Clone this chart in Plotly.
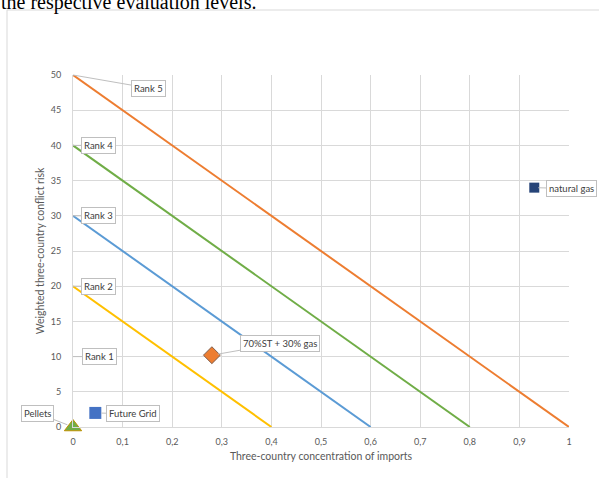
import plotly.graph_objects as go

# ---- data ----
rank_names = ["Rank 1", "Rank 2", "Rank 3", "Rank 4", "Rank 5"]
rank_levels = [10, 20, 30, 40, 50]          # y-intercept of each rank line
rank_x_end = [0.2, 0.4, 0.6, 0.8, 1.0]      # x-intercept of each rank line
rank_drawn = [False, True, True, True, True]
rank_colors = ["#FFFFFF", "#FFC000", "#5B9BD5", "#70AD47", "#ED7D31"]

point_names = ["Pellets", "Future Grid", "70%ST + 30% gas", "natural gas"]
point_x = [0.0, 0.045, 0.28, 0.93]
point_y = [0.0, 2.0, 10.2, 34.0]

x_tick_vals = [0, 0.1, 0.2, 0.3, 0.4, 0.5, 0.6, 0.7, 0.8, 0.9, 1.0]
x_tick_text = ["0", "0,1", "0,2", "0,3", "0,4", "0,5", "0,6", "0,7", "0,8", "0,9", "1"]
y_tick_vals = [0, 5, 10, 15, 20, 25, 30, 35, 40, 45, 50]
y_tick_text = [str(v) for v in y_tick_vals]

# ---- styling ----
W, H = 599, 478
ML, MR, MT, MB = 73, 30, 75, 51
PW, PH = W - ML - MR, H - MT - MB

def px2x(px):
    return (px - ML) / PW

def px2y(py):
    return (H - MB - py) / PH

FONT = "Lato"
point_styles = [
    dict(symbol="triangle-up", size=15, color="#70AD47", line=dict(color="#BF9000", width=1)),
    dict(symbol="square", size=12, color="#4472C4", line=dict(color="#4472C4", width=0)),
    dict(symbol="diamond", size=13, color="#ED7D31", line=dict(color="#7F5F4F", width=1)),
    dict(symbol="square", size=10, color="#264478", line=dict(color="#264478", width=0)),
]
# label offsets (pixels) from marker to label-box centre, and arrow standoff
point_label_off = [(-36, -14), (38, 1), (68, -12), (37, 1)]
point_standoff = [6, 6, 6, 4]
rank_label_off = [(26, 0), (25, 0), (25, 0), (25, 0), (75, 13)]

fig = go.Figure()

for name, lvl, xe, drawn, col in zip(rank_names, rank_levels, rank_x_end, rank_drawn, rank_colors):
    if drawn:
        fig.add_trace(go.Scatter(x=[0, xe], y=[lvl, 0], mode="lines",
                                 line=dict(color=col, width=2), name=name,
                                 showlegend=False, hoverinfo="skip"))

for name, x, y, st in zip(point_names, point_x, point_y, point_styles):
    fig.add_trace(go.Scatter(x=[x], y=[y], mode="markers", marker=st, name=name,
                             showlegend=False, cliponaxis=False))

annotations = []
box = dict(showarrow=True, arrowhead=0, arrowwidth=1, arrowcolor="#BFBFBF",
           bgcolor="white", bordercolor="#BFBFBF", borderwidth=1, borderpad=2,
           font=dict(family=FONT, size=9.5, color="#404040"), axref="pixel", ayref="pixel")

for name, lvl, (ax, ay) in zip(rank_names, rank_levels, rank_label_off):
    annotations.append(dict(x=0, y=lvl, xref="x", yref="y", text=name, ax=ax, ay=ay, **box))

for name, x, y, (ax, ay), so in zip(point_names, point_x, point_y, point_label_off, point_standoff):
    annotations.append(dict(x=x, y=y, xref="x", yref="y", text=name, ax=ax, ay=ay,
                            standoff=so, **box))

# cut-off caption at top
annotations.append(dict(x=px2x(-1), y=px2y(3), xref="paper", yref="paper",
                        xanchor="left", yanchor="middle", showarrow=False,
                        text="the respective evaluation levels.",
                        font=dict(family="Liberation Serif", size=20, color="black")))

shapes = [
    dict(type="line", xref="paper", yref="paper", x0=px2x(7), x1=px2x(620),
         y0=px2y(10), y1=px2y(10), line=dict(color="#D9D9D9", width=1)),
    dict(type="line", xref="paper", yref="paper", x0=px2x(7), x1=px2x(7),
         y0=px2y(10), y1=px2y(500), line=dict(color="#D9D9D9", width=1)),
]

fig.update_layout(
    width=W, height=H,
    margin=dict(l=ML, r=MR, t=MT, b=MB, pad=0),
    paper_bgcolor="white", plot_bgcolor="white",
    font=dict(family=FONT, size=9, color="#595959"),
    annotations=annotations, shapes=shapes,
    showlegend=False,
    xaxis=dict(range=[0, 1], tickvals=x_tick_vals, ticktext=x_tick_text,
               showgrid=True, gridcolor="#D9D9D9", gridwidth=1,
               zeroline=False, showline=True, linecolor="#D9D9D9", linewidth=1,
               ticks="", ticklabelstandoff=6,
               tickfont=dict(family=FONT, size=9, color="#595959"),
               title=dict(text="Three-country concentration of imports",
                          font=dict(family=FONT, size=10.5, color="#595959"), standoff=6)),
    yaxis=dict(range=[0, 50], tickvals=y_tick_vals, ticktext=y_tick_text,
               showgrid=True, gridcolor="#D9D9D9", gridwidth=1,
               zeroline=False, showline=True, linecolor="#D9D9D9", linewidth=1,
               ticks="", ticklabelstandoff=9,
               tickfont=dict(family=FONT, size=9, color="#595959"),
               title=dict(text="Weighted three-country conflict risk",
                          font=dict(family=FONT, size=10.5, color="#595959"), standoff=4)),
)

fig.write_html("out.html", config={"displayModeBar": False},
               post_script="document.body.style.margin='0';document.body.style.overflow='hidden';")
